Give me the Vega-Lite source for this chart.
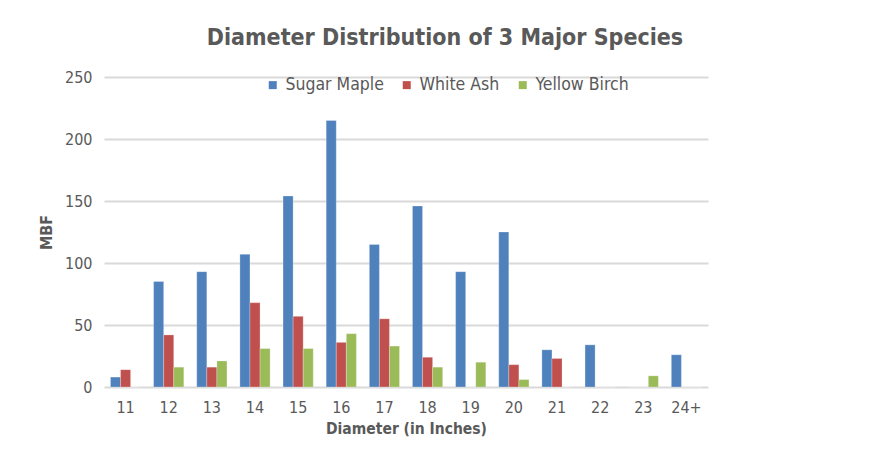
{
  "$schema": "https://vega.github.io/schema/vega-lite/v6.json",
  "autosize": "none",
  "width": 604,
  "height": 310,
  "padding": {"left": 104, "top": 77, "right": 177, "bottom": 72},
  "background": "white",
  "title": {
    "text": "Diameter Distribution of 3 Major Species",
    "anchor": "middle",
    "dx": 39,
    "offset": 19,
    "fontSize": 23,
    "font": "DejaVu Sans Condensed, sans-serif",
    "fontWeight": "bold",
    "color": "#595959"
  },
  "data": {
    "values": [
      {"d": "11", "s": "Sugar Maple", "v": 8},
      {"d": "11", "s": "White Ash", "v": 14},
      {"d": "11", "s": "Yellow Birch", "v": 0},
      {"d": "12", "s": "Sugar Maple", "v": 85},
      {"d": "12", "s": "White Ash", "v": 42},
      {"d": "12", "s": "Yellow Birch", "v": 16},
      {"d": "13", "s": "Sugar Maple", "v": 93},
      {"d": "13", "s": "White Ash", "v": 16},
      {"d": "13", "s": "Yellow Birch", "v": 21},
      {"d": "14", "s": "Sugar Maple", "v": 107},
      {"d": "14", "s": "White Ash", "v": 68},
      {"d": "14", "s": "Yellow Birch", "v": 31},
      {"d": "15", "s": "Sugar Maple", "v": 154},
      {"d": "15", "s": "White Ash", "v": 57},
      {"d": "15", "s": "Yellow Birch", "v": 31},
      {"d": "16", "s": "Sugar Maple", "v": 215},
      {"d": "16", "s": "White Ash", "v": 36},
      {"d": "16", "s": "Yellow Birch", "v": 43},
      {"d": "17", "s": "Sugar Maple", "v": 115},
      {"d": "17", "s": "White Ash", "v": 55},
      {"d": "17", "s": "Yellow Birch", "v": 33},
      {"d": "18", "s": "Sugar Maple", "v": 146},
      {"d": "18", "s": "White Ash", "v": 24},
      {"d": "18", "s": "Yellow Birch", "v": 16},
      {"d": "19", "s": "Sugar Maple", "v": 93},
      {"d": "19", "s": "White Ash", "v": 0},
      {"d": "19", "s": "Yellow Birch", "v": 20},
      {"d": "20", "s": "Sugar Maple", "v": 125},
      {"d": "20", "s": "White Ash", "v": 18},
      {"d": "20", "s": "Yellow Birch", "v": 6},
      {"d": "21", "s": "Sugar Maple", "v": 30},
      {"d": "21", "s": "White Ash", "v": 23},
      {"d": "21", "s": "Yellow Birch", "v": 0},
      {"d": "22", "s": "Sugar Maple", "v": 34},
      {"d": "22", "s": "White Ash", "v": 0},
      {"d": "22", "s": "Yellow Birch", "v": 0},
      {"d": "23", "s": "Sugar Maple", "v": 0},
      {"d": "23", "s": "White Ash", "v": 0},
      {"d": "23", "s": "Yellow Birch", "v": 9},
      {"d": "24+", "s": "Sugar Maple", "v": 26},
      {"d": "24+", "s": "White Ash", "v": 0},
      {"d": "24+", "s": "Yellow Birch", "v": 0}
    ]
  },
  "mark": {"type": "bar", "stroke": "white", "strokeOpacity": 0.5, "strokeWidth": 0.5},
  "encoding": {
    "x": {
      "field": "d",
      "type": "nominal",
      "sort": null,
      "scale": {"paddingInner": 0.3, "paddingOuter": 0.15},
      "axis": {
        "title": "Diameter (in Inches)",
        "labelAngle": 0,
        "ticks": false,
        "domain": false,
        "labelPadding": 12,
        "titlePadding": 6,
        "titleFontSize": 15.5
      }
    },
    "xOffset": {"field": "s", "type": "nominal", "scale": {"paddingInner": 0, "paddingOuter": 0}},
    "y": {
      "field": "v",
      "type": "quantitative",
      "scale": {"domain": [0, 250]},
      "axis": {
        "title": "MBF",
        "values": [0, 50, 100, 150, 200, 250],
        "ticks": false,
        "domain": false,
        "labelPadding": 12,
        "titlePadding": 10
      }
    },
    "color": {
      "field": "s",
      "type": "nominal",
      "scale": {"domain": ["Sugar Maple", "White Ash", "Yellow Birch"], "range": ["#4F81BD", "#C0504D", "#9BBB59"]},
      "legend": {
        "title": null,
        "orient": "none",
        "direction": "horizontal",
        "legendX": 160,
        "legendY": -1,
        "symbolType": "square",
        "symbolSize": 64,
        "symbolStrokeWidth": 0,
        "labelFontSize": 17.5,
        "labelColor": "#595959",
        "labelFont": "DejaVu Sans Condensed, sans-serif",
        "labelOffset": 4,
        "columnPadding": 14
      }
    }
  },
  "config": {
    "view": {"stroke": null},
    "axis": {
      "labelFont": "DejaVu Sans Condensed, sans-serif",
      "labelFontSize": 16,
      "labelColor": "#595959",
      "titleFont": "DejaVu Sans Condensed, sans-serif",
      "titleFontSize": 16,
      "titleFontWeight": "bold",
      "titleColor": "#595959",
      "gridColor": "#d9d9d9",
      "gridWidth": 2
    }
  }
}
